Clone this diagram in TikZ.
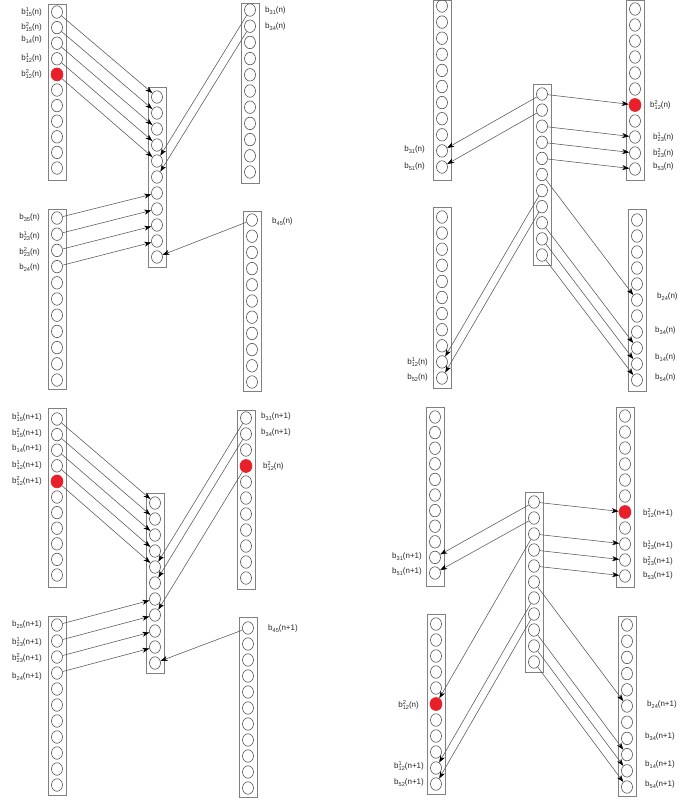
\documentclass[tikz,border=0pt]{standalone}
\usepackage{fontspec}
\setmainfont{Liberation Sans}
\usetikzlibrary{shapes.geometric,arrows.meta}
\definecolor{myred}{HTML}{E8202A}
\definecolor{boxgray}{HTML}{808080}
\definecolor{cirgray}{HTML}{505050}
\definecolor{lngray}{HTML}{555555}
\newcommand\scr{\fontsize{5.6}{6}\selectfont}
\newcommand\lbl[3]{b\rlap{\raisebox{3pt}{\scr #1}}\raisebox{-2pt}{\scr #2}(#3)}
\newcommand\lbs[2]{b\raisebox{-2pt}{\scr #1}(#2)}
\tikzset{
  boxst/.style={draw=boxgray, line width=0.9pt},
  cir/.style={ellipse, draw=cirgray, line width=0.6pt, minimum width=11pt, minimum height=12.5pt, inner sep=0pt},
  redc/.style={fill=myred, draw=myred, minimum width=12pt, minimum height=13pt},
  conn/.style={draw=lngray, line width=0.55pt, -{Stealth[length=7pt,width=5pt,inset=2pt,color=black]}},
  lab/.style={font=\fontsize{8}{9}\selectfont, inner sep=0pt, text=black!85}
}
\newcommand\mycol[7]{%
  \draw[boxst] ({#2-9},#5) rectangle ({#2+9},#6);
  \foreach \i in {1,...,11}{%
    \pgfmathsetmacro\yy{#3+(\i-1)*(#4-#3)/10}%
    \ifnum\i=#7\relax
      \node[cir,redc] (#1-\i) at (#2,\yy) {};
    \else
      \node[cir] (#1-\i) at (#2,\yy) {};
    \fi}%
}
\begin{document}
\begin{tikzpicture}[x=1pt,y=-1pt]
\useasboundingbox (0,0) rectangle (697,804);
% ---------- Panel 1 ----------
\mycol{p1A}{57}{12}{168}{4}{180}{5}
\mycol{p1B}{57}{218}{380}{209}{389}{0}
\mycol{p1M}{157}{97}{257}{87}{267}{0}
\mycol{p1R}{250}{10}{172}{3}{183}{0}
\mycol{p1S}{252}{220}{382}{211}{391}{0}
\foreach \s/\t in {1/1,2/2,3/3,4/4,5/5} \draw[conn] (p1A-\s) -- (p1M-\t);
\foreach \s/\t in {1/5,2/6} \draw[conn] (p1R-\s) -- (p1M-\t);
\foreach \s/\t in {1/7,2/8,3/9,4/10} \draw[conn] (p1B-\s) -- (p1M-\t);
\draw[conn] (p1S-1) -- (p1M-11);
\node[lab,anchor=east] (l1a) at (42,12) {\lbl{1}{15}{n}};
\node[lab,anchor=east] (l1b) at (42,27) {\lbl{2}{15}{n}};
\node[lab,anchor=east] (l1c) at (42,40) {\lbs{14}{n}};
\node[lab,anchor=east] (l1d) at (42,58) {\lbl{1}{12}{n}};
\node[lab,anchor=east] (l1e) at (42,74) {\lbl{2}{12}{n}};
\node[lab,anchor=east] (l1f) at (40,218) {\lbs{35}{n}};
\node[lab,anchor=east] (l1g) at (40,236) {\lbl{1}{23}{n}};
\node[lab,anchor=east] (l1h) at (40,252) {\lbl{2}{23}{n}};
\node[lab,anchor=east] (l1i) at (40,268) {\lbs{24}{n}};
\node[lab,anchor=west] (l1j) at (265,11) {\lbs{31}{n}};
\node[lab,anchor=west] (l1k) at (265,27) {\lbs{34}{n}};
\node[lab,anchor=west] (l1l) at (272,222) {\lbs{45}{n}};
% ---------- Panel 2 ----------
\mycol{p2A}{442}{6}{167}{0.5}{180}{0}
\mycol{p2B}{442}{217}{378}{207}{388}{0}
\mycol{p2M}{542}{94}{255}{84}{265}{0}
\mycol{p2R}{635}{9}{169}{0.5}{180}{7}
\mycol{p2S}{637}{220}{380}{209}{391}{0}
\foreach \s/\t in {1/7,3/9,4/10,5/11} \draw[conn] (p2M-\s) -- (p2R-\t);
\foreach \s/\t in {1/10,2/11} \draw[conn] (p2M-\s) -- (p2A-\t);
\foreach \s/\t in {7/10,8/11} \draw[conn] (p2M-\s) -- (p2B-\t);
\foreach \s/\t in {6/6,9/9,10/10,11/11} \draw[conn] (p2M-\s) -- (p2S-\t);
\node[lab,anchor=east] (l2a) at (425,150) {\lbs{31}{n}};
\node[lab,anchor=east] (l2b) at (425,167) {\lbs{51}{n}};
\node[lab,anchor=east] (l2c) at (428,362) {\lbl{1}{12}{n}};
\node[lab,anchor=east] (l2d) at (428,378) {\lbs{52}{n}};
\node[lab,anchor=west] (l2e) at (650,105) {\lbl{2}{12}{n}};
\node[lab,anchor=west] (l2f) at (653,137) {\lbl{1}{23}{n}};
\node[lab,anchor=west] (l2g) at (653,153) {\lbl{2}{23}{n}};
\node[lab,anchor=west] (l2h) at (653,167) {\lbs{53}{n}};
\node[lab,anchor=west] (l2i) at (657,297) {\lbs{24}{n}};
\node[lab,anchor=west] (l2j) at (655,331) {\lbs{34}{n}};
\node[lab,anchor=west] (l2k) at (655,358) {\lbs{14}{n}};
\node[lab,anchor=west] (l2l) at (655,378) {\lbs{54}{n}};
% ---------- Panel 3 ----------
\mycol{p3A}{57}{419}{575}{408}{587}{5}
\mycol{p3B}{57}{625}{785}{616}{795}{0}
\mycol{p3M}{155}{503}{663}{493}{673}{0}
\mycol{p3R}{246}{418}{578}{410}{589}{4}
\mycol{p3S}{248}{628}{788}{617}{797}{0}
\foreach \s/\t in {1/1,2/2,3/3,4/4,5/5} \draw[conn] (p3A-\s) -- (p3M-\t);
\foreach \s/\t in {1/5,2/6,4/8} \draw[conn] (p3R-\s) -- (p3M-\t);
\foreach \s/\t in {1/7,2/8,3/9,4/10} \draw[conn] (p3B-\s) -- (p3M-\t);
\draw[conn] (p3S-1) -- (p3M-11);
\node[lab,anchor=east] (l3a) at (42,417) {\lbl{1}{15}{n+1}};
\node[lab,anchor=east] (l3b) at (42,433) {\lbl{2}{15}{n+1}};
\node[lab,anchor=east] (l3c) at (42,449) {\lbs{14}{n+1}};
\node[lab,anchor=east] (l3d) at (42,465) {\lbl{1}{12}{n+1}};
\node[lab,anchor=east] (l3e) at (42,481) {\lbl{2}{12}{n+1}};
\node[lab,anchor=east] (l3f) at (42,625) {\lbs{25}{n+1}};
\node[lab,anchor=east] (l3g) at (42,642) {\lbl{1}{23}{n+1}};
\node[lab,anchor=east] (l3h) at (42,658) {\lbl{2}{23}{n+1}};
\node[lab,anchor=east] (l3i) at (42,677) {\lbs{24}{n+1}};
\node[lab,anchor=west] (l3j) at (261,417) {\lbs{31}{n+1}};
\node[lab,anchor=west] (l3k) at (261,433) {\lbs{34}{n+1}};
\node[lab,anchor=west] (l3l) at (263,466) {\lbl{2}{12}{n}};
\node[lab,anchor=west] (l3m) at (268,629) {\lbs{45}{n+1}};
% ---------- Panel 4 ----------
\mycol{p4A}{435}{417}{573}{407}{586}{0}
\mycol{p4B}{436}{624}{784}{614}{794}{6}
\mycol{p4M}{534}{502}{662}{492}{672}{0}
\mycol{p4R}{625}{416}{576}{407}{587}{7}
\mycol{p4S}{627}{625}{787}{616}{796}{0}
\foreach \s/\t in {1/7,3/9,4/10,5/11} \draw[conn] (p4M-\s) -- (p4R-\t);
\foreach \s/\t in {1/10,2/11} \draw[conn] (p4M-\s) -- (p4A-\t);
\foreach \s/\t in {3/6,7/10,8/11} \draw[conn] (p4M-\s) -- (p4B-\t);
\foreach \s/\t in {6/6,9/9,10/10,11/11} \draw[conn] (p4M-\s) -- (p4S-\t);
\node[lab,anchor=east] (l4a) at (422,557) {\lbs{31}{n+1}};
\node[lab,anchor=east] (l4b) at (422,572) {\lbs{51}{n+1}};
\node[lab,anchor=east] (l4c) at (419,705) {\lbl{2}{12}{n}};
\node[lab,anchor=east] (l4d) at (424,766) {\lbl{1}{12}{n+1}};
\node[lab,anchor=east] (l4e) at (424,783) {\lbs{52}{n+1}};
\node[lab,anchor=west] (l4f) at (643,513) {\lbl{2}{12}{n+1}};
\node[lab,anchor=west] (l4g) at (643,545) {\lbl{1}{23}{n+1}};
\node[lab,anchor=west] (l4h) at (643,561) {\lbl{2}{23}{n+1}};
\node[lab,anchor=west] (l4i) at (643,576) {\lbs{53}{n+1}};
\node[lab,anchor=west] (l4j) at (647,705) {\lbs{24}{n+1}};
\node[lab,anchor=west] (l4k) at (645,737) {\lbs{34}{n+1}};
\node[lab,anchor=west] (l4l) at (645,765) {\lbs{14}{n+1}};
\node[lab,anchor=west] (l4m) at (645,785) {\lbs{54}{n+1}};
\end{tikzpicture}
\end{document}
